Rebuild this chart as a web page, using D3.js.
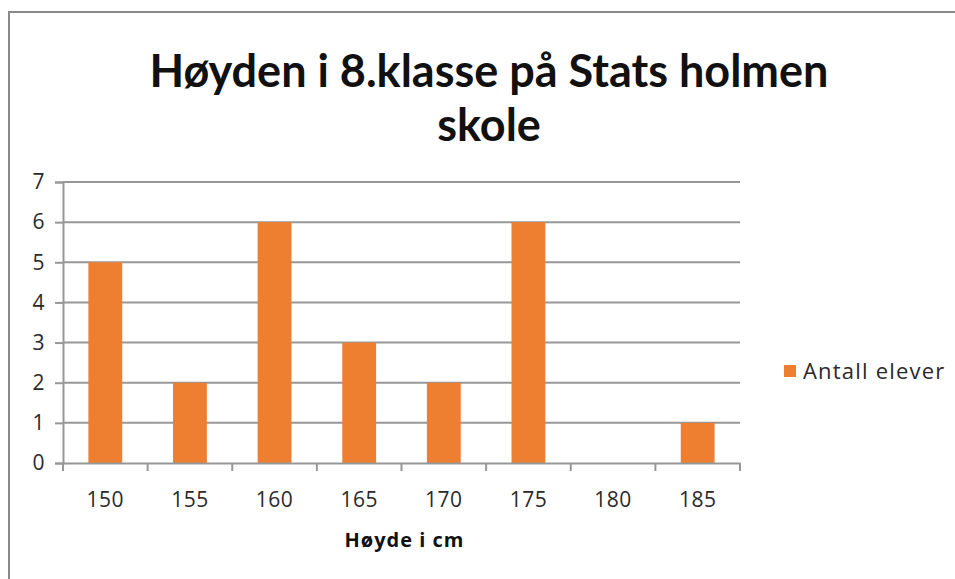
<!DOCTYPE html>
<html>
<head>
<meta charset="utf-8">
<script src="https://cdn.jsdelivr.net/npm/d3@7"></script>
<style>
  body { margin: 0; background: #fff; }
  svg { display: block; font-family: "Open Sans", sans-serif; }
</style>
</head>
<body>
<div id="chart"></div>
<script>
// data
const categories = ["150", "155", "160", "165", "170", "175", "180", "185"];
const antallElever = [5, 2, 6, 3, 2, 6, 0, 1];
const yTicks = [0, 1, 2, 3, 4, 5, 6, 7];
const titleLines = ["Høyden i 8.klasse på Stats holmen", "skole"];
const xTitle = "Høyde i cm";
const seriesName = "Antall elever";

const width = 955, height = 579;
const plot = { left: 63, right: 740, top: 182, bottom: 463 };
const barColor = "#ee7f31";
const gridColor = "#979797";
const labelFont = "'Open Sans', sans-serif";

const svg = d3.select("#chart").append("svg")
  .attr("width", width)
  .attr("height", height);

// chart border (runs off the right and bottom edge)
svg.append("rect")
  .attr("x", 9).attr("y", 12)
  .attr("width", 980).attr("height", 620)
  .attr("fill", "#fff")
  .attr("stroke", "#8a8a8a")
  .attr("stroke-width", 2);

const x = d3.scaleBand().domain(categories).range([plot.left, plot.right]).paddingInner(0.6).paddingOuter(0.3);
const xEdges = d3.scaleBand().domain(categories).range([plot.left, plot.right]);
const y = d3.scaleLinear().domain([0, 7]).range([plot.bottom, plot.top]);

// gridlines
svg.append("g")
  .selectAll("line")
  .data(yTicks.filter(d => d > 0))
  .join("line")
  .attr("x1", plot.left).attr("x2", plot.right)
  .attr("y1", d => y(d)).attr("y2", d => y(d))
  .attr("stroke", gridColor)
  .attr("stroke-width", 2);

// bars
svg.append("g")
  .selectAll("rect")
  .data(antallElever)
  .join("rect")
  .attr("x", (d, i) => x(categories[i]))
  .attr("width", x.bandwidth())
  .attr("y", d => y(d))
  .attr("height", d => y(0) - y(d))
  .attr("fill", barColor);

// y axis
const yAxis = svg.append("g")
  .attr("transform", `translate(${plot.left},0)`)
  .call(d3.axisLeft(y).tickValues(yTicks).tickFormat(d3.format("d")).tickSize(8).tickPadding(10));

// x axis, ticks sit on the category boundaries
const xAxis = svg.append("g")
  .attr("transform", `translate(0,${plot.bottom})`)
  .call(d3.axisBottom(xEdges).tickSize(0).tickPadding(44));

xAxis.append("g")
  .selectAll("line")
  .data(categories.map(c => xEdges(c)).concat([plot.right]))
  .join("line")
  .attr("x1", d => d).attr("x2", d => d)
  .attr("y1", 0).attr("y2", 8)
  .attr("stroke", gridColor)
  .attr("stroke-width", 2);

[xAxis, yAxis].forEach(g => {
  g.select(".domain").attr("stroke", gridColor).attr("stroke-width", 2);
  g.selectAll(".tick line").attr("stroke", gridColor).attr("stroke-width", 2);
  g.selectAll("text")
    .attr("font-size", 21)
    .attr("font-family", labelFont)
    .attr("letter-spacing", 0.5)
    .attr("fill", "#2a2a2a");
});
xAxis.selectAll(".tick text").attr("dy", 0);

// title
svg.append("text")
  .attr("text-anchor", "middle")
  .attr("font-family", "Lato, sans-serif")
  .attr("font-weight", "bold")
  .attr("font-size", 45)
  .attr("fill", "#111")
  .selectAll("tspan")
  .data(titleLines)
  .join("tspan")
  .attr("x", 489)
  .attr("y", (d, i) => 87 + i * 54)
  .text(d => d);

// x axis title
svg.append("text")
  .attr("x", (plot.left + plot.right) / 2 + 3)
  .attr("y", 547)
  .attr("text-anchor", "middle")
  .attr("font-family", labelFont)
  .attr("font-weight", "bold")
  .attr("font-size", 20)
  .attr("letter-spacing", 1)
  .attr("fill", "#111")
  .text(xTitle);

// legend
const legend = svg.append("g").attr("transform", "translate(784,365)");
legend.append("rect")
  .attr("width", 12).attr("height", 12)
  .attr("fill", barColor);
legend.append("text")
  .attr("x", 19).attr("y", 14)
  .attr("font-family", labelFont)
  .attr("font-size", 22)
  .attr("letter-spacing", 1.2)
  .attr("fill", "#2a2a2a")
  .text(seriesName);
</script>
</body>
</html>
